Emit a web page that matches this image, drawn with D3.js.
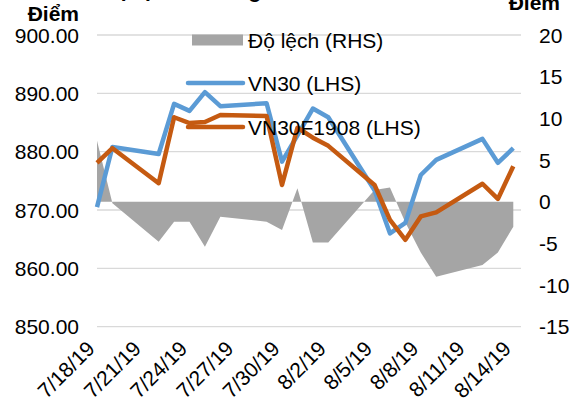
<!DOCTYPE html>
<html>
<head>
    <meta charset="utf-8"/>
    <title>VN30 va VN30F1908</title>
    <script src="https://d3js.org/d3.v7.min.js"></script>
</head>
<style>
    body {
        margin: 0;
        background: white;
    }
    #chart text {
        font-family: "Liberation Sans", Arial, sans-serif;
        fill: #000;
    }
    .grid line {
        stroke: #d9d9d9;
        stroke-width: 1.3px;
    }
    .tick-label {
        font-size: 21px;
    }
    .unit {
        font-size: 21px;
        font-weight: bold;
    }
</style>
<body>
    <div id="chart"></div>
</body>
<script type="text/javascript">
    // trading days
    var dates = ["2019-07-18", "2019-07-19", "2019-07-22", "2019-07-23", "2019-07-24",
                 "2019-07-25", "2019-07-26", "2019-07-29", "2019-07-30", "2019-07-31",
                 "2019-08-01", "2019-08-02", "2019-08-05", "2019-08-06", "2019-08-07",
                 "2019-08-08", "2019-08-09", "2019-08-12", "2019-08-13", "2019-08-14"];
    var vn30 = [870.5, 880.8, 879.6, 888.2, 887.0, 890.2, 887.8, 888.3, 878.3, 882.8,
                887.4, 885.9, 873.4, 866.0, 867.8, 876.0, 878.6, 882.2, 878.1, 880.6];
    var vn30f = [878.1, 880.6, 874.6, 885.9, 884.9, 885.1, 886.3, 886.1, 874.3, 884.1,
                 882.4, 881.0, 874.3, 868.3, 864.9, 868.9, 869.6, 874.5, 871.9, 877.5];
    var dolech = [7.3, -0.2, -4.8, -2.4, -2.4, -5.4, -1.8, -2.4, -3.4, 1.6,
                  -4.9, -4.9, 1.4, 1.7, -2.5, -6.1, -9.0, -7.6, -6.1, -3.0];

    var leftTicks = [900, 890, 880, 870, 860, 850];
    var rightTicks = [20, 15, 10, 5, 0, -5, -10, -15];
    var xTicks = ["2019-07-18", "2019-07-21", "2019-07-24", "2019-07-27", "2019-07-30",
                  "2019-08-02", "2019-08-05", "2019-08-08", "2019-08-11", "2019-08-14"];
    var legendNames = ["Độ lệch (RHS)", "VN30 (LHS)", "VN30F1908 (LHS)"];
    var titleText = "Độ lệch cơ sở giữa VN30 và VN30F1908";

    var width = 579, height = 405;
    var parse = d3.timeParse("%Y-%m-%d");
    var fmt = d3.timeFormat("%-m/%-d/%y");

    var svg = d3.select("#chart").append("svg")
        .attr("width", width)
        .attr("height", height);

    var x = d3.scaleTime()
        .domain([parse("2019-07-18"), d3.timeHour.offset(parse("2019-08-14"), 12)])
        .range([97, 521]);
    var yL = d3.scaleLinear().domain([850, 900]).range([326.7, 35]);
    var yR = d3.scaleLinear().domain([-15, 20]).range([326.7, 35]);

    var rows = dates.map(function(d, i){
        return {date: parse(d), a: vn30[i], b: vn30f[i], c: dolech[i]};
    });

    // gridlines
    svg.append("g").attr("class", "grid")
        .selectAll("line").data(leftTicks).enter().append("line")
        .attr("x1", x.range()[0]).attr("x2", x.range()[1])
        .attr("y1", function(d){ return yL(d); })
        .attr("y2", function(d){ return yL(d); });

    // left axis labels
    svg.append("g").selectAll("text").data(leftTicks).enter().append("text")
        .attr("class", "tick-label")
        .attr("x", 79)
        .attr("y", function(d){ return yL(d); })
        .attr("dy", "0.36em")
        .attr("text-anchor", "end")
        .text(function(d){ return d3.format(".2f")(d); });

    // right axis labels
    svg.append("g").selectAll("text").data(rightTicks).enter().append("text")
        .attr("class", "tick-label")
        .attr("x", 539)
        .attr("y", function(d){ return yR(d); })
        .attr("dy", "0.36em")
        .text(function(d){ return d; });

    // x labels
    svg.append("g").selectAll("text").data(xTicks).enter().append("text")
        .attr("class", "tick-label")
        .attr("text-anchor", "end")
        .attr("transform", function(d){
            return "translate(" + (x(parse(d)) - 1) + ",350) rotate(-45)";
        })
        .text(function(d){ return fmt(parse(d)); });

    // deviation area
    var area = d3.area()
        .x(function(d){ return x(d.date); })
        .y0(yR(0))
        .y1(function(d){ return yR(d.c); });
    svg.append("path").datum(rows)
        .attr("d", area)
        .attr("fill", "#a5a5a5");

    var lineA = d3.line()
        .x(function(d){ return x(d.date); })
        .y(function(d){ return yL(d.a); });
    var lineB = d3.line()
        .x(function(d){ return x(d.date); })
        .y(function(d){ return yL(d.b); });

    svg.append("path").datum(rows)
        .attr("d", lineA)
        .attr("fill", "none")
        .attr("stroke", "#5b9bd5")
        .attr("stroke-width", 4.5)
        .attr("stroke-linejoin", "round");
    svg.append("path").datum(rows)
        .attr("d", lineB)
        .attr("fill", "none")
        .attr("stroke", "#c55a11")
        .attr("stroke-width", 4.5)
        .attr("stroke-linejoin", "round");

    // legend
    var legY = [40, 83, 127];
    var leg = svg.append("g");
    leg.append("rect")
        .attr("x", 192).attr("y", legY[0] - 5.5)
        .attr("width", 51).attr("height", 11)
        .attr("fill", "#a5a5a5");
    leg.append("line")
        .attr("x1", 188).attr("x2", 243)
        .attr("y1", legY[1]).attr("y2", legY[1])
        .attr("stroke", "#5b9bd5").attr("stroke-width", 4.5)
        .attr("stroke-linecap", "round");
    leg.append("line")
        .attr("x1", 188).attr("x2", 243)
        .attr("y1", legY[2]).attr("y2", legY[2])
        .attr("stroke", "#c55a11").attr("stroke-width", 4.5)
        .attr("stroke-linecap", "round");
    leg.selectAll("text").data(legendNames).enter().append("text")
        .attr("class", "tick-label")
        .attr("x", 248)
        .attr("y", function(d, i){ return legY[i]; })
        .attr("dy", "0.36em")
        .text(function(d){ return d; });

    // units and (cropped) title
    svg.append("text").attr("class", "unit")
        .attr("x", 79).attr("y", 21)
        .attr("text-anchor", "end")
        .text("Điểm");
    svg.append("text").attr("class", "unit")
        .attr("x", 560).attr("y", 10)
        .attr("text-anchor", "end")
        .text("Điểm");
    svg.append("text").attr("class", "unit")
        .attr("x", 102).attr("y", -2)
        .text(titleText);
</script>
</html>
